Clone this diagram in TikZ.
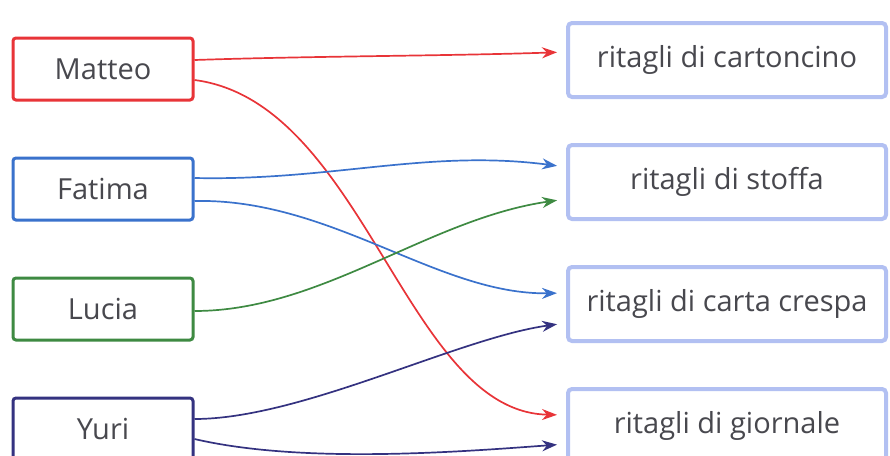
\documentclass[tikz,border=0pt]{standalone}
\usepackage{fontspec}
\setmainfont{Open Sans}
\usepackage{tikz}
\usetikzlibrary{arrows.meta,positioning}
\usepackage{xcolor}

\definecolor{redline}{RGB}{232,52,56}
\definecolor{blueline}{RGB}{58,114,204}
\definecolor{greenline}{RGB}{62,138,66}
\definecolor{navyline}{RGB}{52,50,128}
\definecolor{lavender}{RGB}{178,192,242}
\definecolor{inkgray}{RGB}{72,72,78}

\begin{document}
\begin{tikzpicture}[->,>={Stealth[length=15pt,width=11pt]},shorten >=9pt,
			x=1pt,y=-1pt,line width=1.7pt,node distance=55pt]
				\tikzstyle{kid}=
				[draw,line width=3pt,rounded corners=3pt,fill=white,
				minimum width=180pt,minimum height=62pt,
				text=inkgray,font=\fontsize{29}{34}\selectfont]
				\tikzstyle{stuff}=
				[draw=lavender,line width=4pt,rounded corners=4pt,fill=white,
				minimum width=318pt,minimum height=74pt,
				text=inkgray,font=\fontsize{29}{34}\selectfont]
				
				\useasboundingbox (0,0) rectangle (890,455);
				
				\node[kid,draw=redline] (M) 	at (103,69) {Matteo};
				\node[kid,draw=blueline] (F) 	[below=of M] {Fatima};
				\node[kid,draw=greenline] (L) 	[below=of F] {Lucia};
				\node[kid,draw=navyline] (Y) 	[below=of L] {Yuri};
				
				\node[stuff] (cart) 	at (727,60) {ritagli di cartoncino};
				\node[stuff] (stof) 	[below=44pt of cart] {ritagli di stoffa};
				\node[stuff] (cres) 	[below=44pt of stof] {ritagli di carta crespa};
				\node[stuff] (gior) 	[below=44pt of cres] {ritagli di giornale};
				
				\draw[redline] ([yshift=9pt]M.east) .. controls +(120,-4) and +(-120,4) .. ([yshift=8pt]cart.west);
				\draw[redline] ([yshift=-11pt]M.east) .. controls +(170,22) and +(-160,-3) .. ([yshift=11pt]gior.west);
				\draw[blueline] ([yshift=11pt]F.east) .. controls +(137,3) and +(-138,-18) .. ([yshift=15pt]stof.west);
				\draw[blueline] ([yshift=-12pt]F.east) .. controls +(137,-3) and +(-128,2) .. ([yshift=11pt]cres.west);
				\draw[greenline] ([yshift=-2pt]L.east) .. controls +(127,0) and +(-138,20) .. ([yshift=-17pt]stof.west);
				\draw[navyline] ([yshift=10pt]Y.east) .. controls +(107,0) and +(-108,15) .. ([yshift=-19pt]cres.west);
				\draw[navyline] ([yshift=-10pt]Y.east) .. controls +(107,25) and +(-108,8) .. ([yshift=-18pt]gior.west);
			\end{tikzpicture}
\end{document}
